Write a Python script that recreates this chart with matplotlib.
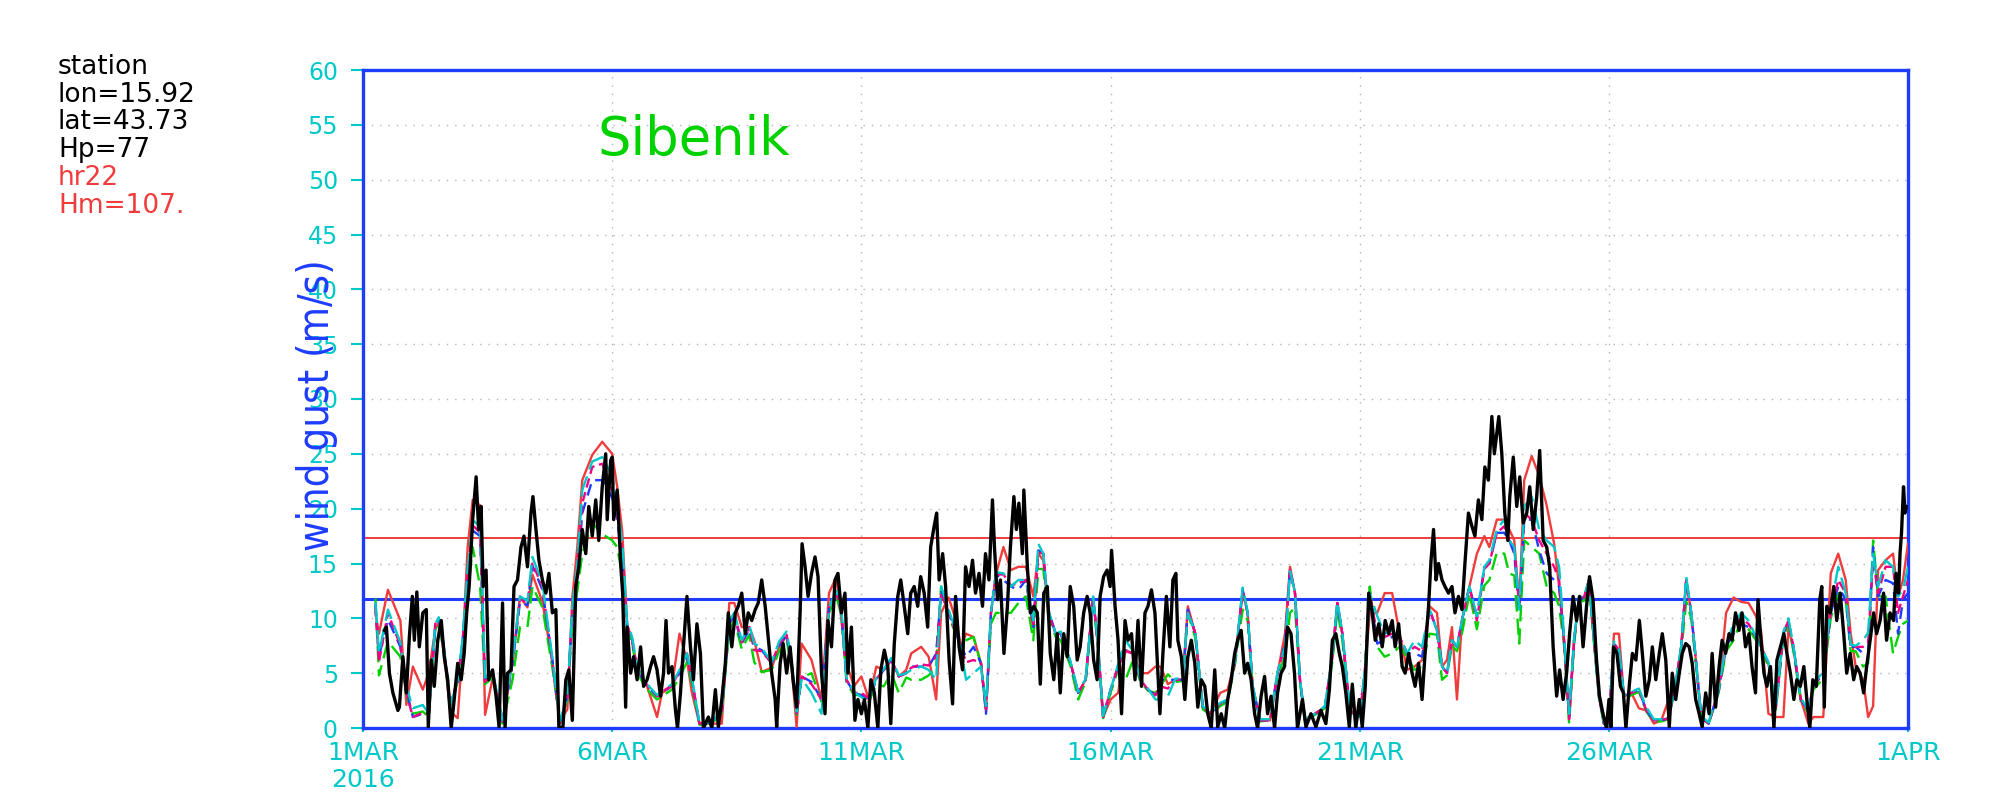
import matplotlib
matplotlib.use("Agg")
import matplotlib.pyplot as plt

# time axis: days since 1 MAR 2016 00Z
t_mod = [0.25, 0.32, 0.5, 0.75, 0.87, 1.0, 1.2, 1.32, 1.45, 1.52,
         1.62, 1.75, 1.9, 2.0, 2.1, 2.2, 2.35, 2.45, 2.6, 2.8,
         3.0, 3.15, 3.3, 3.4, 3.6, 3.8, 3.95, 4.1, 4.2, 4.3,
         4.4, 4.6, 4.8, 5.0, 5.1, 5.2, 5.3, 5.4, 5.5, 5.7,
         5.9, 6.0, 6.2, 6.35, 6.5, 6.6, 6.75, 7.0, 7.2, 7.35,
         7.45, 7.6, 7.75, 7.85, 8.0, 8.2, 8.35, 8.5, 8.6, 8.7,
         8.8, 9.0, 9.2, 9.35, 9.5, 9.6, 9.7, 9.85, 10.0, 10.15,
         10.3, 10.45, 10.6, 10.75, 10.9, 11.0, 11.2, 11.35, 11.5, 11.6,
         11.75, 11.9, 12.0, 12.1, 12.25, 12.4, 12.5, 12.6, 12.7, 12.85,
         13.0, 13.15, 13.3, 13.45, 13.55, 13.65, 13.75, 13.9, 14.0, 14.2,
         14.35, 14.5, 14.65, 14.75, 14.85, 15.0, 15.15, 15.3, 15.45, 15.6,
         15.75, 15.9, 16.0, 16.15, 16.3, 16.45, 16.55, 16.7, 16.85, 17.0,
         17.2, 17.35, 17.5, 17.65, 17.75, 17.85, 18.0, 18.2, 18.35, 18.5,
         18.6, 18.7, 18.8, 18.9, 19.1, 19.3, 19.45, 19.55, 19.65, 19.8,
         20.0, 20.1, 20.2, 20.35, 20.5, 20.65, 20.8, 20.95, 21.1, 21.25,
         21.4, 21.55, 21.65, 21.75, 21.85, 21.95, 22.05, 22.2, 22.35, 22.5,
         22.6, 22.75, 22.9, 23.0, 23.1, 23.2, 23.3, 23.45, 23.6, 23.75,
         23.9, 24.0, 24.1, 24.2, 24.3, 24.4, 24.5, 24.6, 24.7, 24.8,
         24.9, 25.0, 25.05, 25.1, 25.2, 25.3, 25.45, 25.6, 25.75, 25.9,
         26.05, 26.2, 26.35, 26.45, 26.55, 26.65, 26.75, 26.85, 27.0, 27.2,
         27.35, 27.5, 27.65, 27.8, 27.95, 28.05, 28.2, 28.35, 28.5, 28.6,
         28.7, 28.85, 29.0, 29.1, 29.3, 29.45, 29.6, 29.75, 29.85, 29.95,
         30.1, 30.2, 30.3, 30.4, 30.55, 30.7, 30.8, 30.9, 31.0]

gust_red = [10.5, 8.6, 12.6, 9.8, 2.1, 5.6, 3.5, 5.0, 9.0, 9.6,
            7.0, 1.5, 0.9, 7.5, 16.5, 20.8, 20.3, 1.2, 4.5, 0.7,
            6.0, 12.0, 11.0, 14.0, 11.5, 6.0, 0.6, 1.7, 11.9, 16.5,
            22.6, 24.9, 26.1, 25.0, 22.0, 18.0, 9.4, 8.0, 5.3, 3.8,
            1.0, 3.2, 3.8, 8.6, 6.2, 3.2, 0.4, 0.4, 0.4, 11.4,
            11.4, 9.2, 9.2, 8.0, 5.1, 5.5, 7.4, 8.4, 5.5, 0.1,
            7.7, 6.2, 2.6, 12.3, 13.8, 9.8, 5.9, 3.8, 4.7, 2.6,
            5.6, 5.3, 6.2, 4.7, 5.3, 6.8, 7.4, 6.5, 2.6, 10.5,
            11.9, 9.8, 7.4, 8.6, 8.3, 5.9, 1.5, 10.5, 14.0, 16.5,
            14.4, 14.7, 14.7, 12.0, 15.9, 15.3, 10.5, 8.6, 8.6, 5.9,
            3.2, 4.4, 11.9, 7.4, 1.0, 2.6, 3.2, 7.1, 6.8, 5.0,
            5.0, 5.6, 5.6, 4.0, 4.4, 4.4, 11.1, 8.6, 1.9, 1.3,
            3.2, 3.5, 6.2, 12.4, 10.5, 3.8, 0.7, 0.7, 5.0, 8.6,
            14.7, 12.3, 4.4, 0.7, 1.3, 1.9, 6.5, 11.4, 8.6, 1.6,
            1.0, 5.0, 10.5, 10.5, 12.3, 12.3, 8.6, 5.3, 5.6, 6.2,
            11.1, 10.5, 5.6, 6.2, 9.2, 2.6, 9.8, 12.9, 15.9, 17.5,
            16.5, 19.0, 19.0, 18.1, 17.1, 11.0, 22.6, 24.8, 23.0, 20.3,
            16.8, 12.9, 8.0, 0.8, 8.0, 11.9, 11.9, 13.5, 8.0, 2.9,
            0.4, 0.1, 4.4, 8.6, 8.6, 2.9, 3.2, 1.8, 1.6, 0.4,
            0.7, 2.6, 4.4, 7.4, 13.5, 10.5, 5.9, 1.0, 0.4, 3.4,
            10.5, 11.9, 11.5, 11.4, 10.2, 8.9, 1.3, 1.0, 1.0, 9.0,
            7.4, 2.6, 0.4, 1.0, 1.0, 14.1, 15.9, 13.5, 8.6, 5.6,
            4.4, 1.0, 2.0, 14.4, 15.3, 15.9, 12.0, 13.5, 16.8]

gust_blue = [11.3, 6.5, 9.9, 7.4, 3.5, 1.0, 1.3, 1.2, 9.3, 9.9,
             7.4, 2.1, 4.0, 8.0, 14.0, 18.0, 17.5, 4.4, 5.0, 0.6,
             5.8, 11.5, 11.2, 14.8, 12.6, 6.2, 0.4, 2.9, 10.2, 14.0,
             19.6, 22.6, 22.6, 21.0, 19.0, 15.5, 9.2, 8.0, 5.3, 3.8,
             2.9, 3.2, 3.9, 5.0, 6.6, 4.4, 0.4, 0.5, 1.6, 9.5,
             10.2, 7.7, 9.0, 7.4, 7.1, 5.9, 7.5, 8.5, 5.9, 1.3,
             4.7, 4.2, 2.6, 11.0, 12.3, 10.5, 4.4, 3.2, 3.0, 2.6,
             4.4, 5.3, 6.2, 4.7, 5.0, 5.6, 5.6, 5.6, 6.8, 12.5,
             10.5, 8.6, 7.4, 6.5, 7.4, 5.9, 1.3, 10.5, 14.0, 13.5,
             12.9, 12.6, 13.5, 9.2, 16.2, 15.9, 10.8, 8.6, 8.6, 5.9,
             3.2, 4.4, 11.9, 7.4, 1.0, 3.5, 5.6, 7.1, 6.8, 4.4,
             3.5, 3.0, 4.4, 4.4, 4.4, 4.4, 10.8, 8.6, 1.9, 1.3,
             2.2, 2.6, 6.2, 12.6, 10.5, 3.8, 0.7, 0.7, 5.0, 7.7,
             14.4, 12.3, 4.4, 0.7, 1.3, 1.9, 6.5, 11.4, 8.6, 1.6,
             1.0, 5.0, 12.3, 7.7, 8.0, 8.3, 8.3, 6.8, 6.8, 6.5,
             10.8, 8.9, 5.6, 5.0, 8.0, 7.4, 9.8, 12.9, 10.2, 14.7,
             15.0, 17.8, 17.8, 17.1, 15.9, 10.5, 19.0, 19.0, 16.2, 14.1,
             13.5, 12.9, 8.0, 1.0, 8.0, 11.9, 11.9, 13.5, 8.0, 2.9,
             0.4, 0.1, 4.4, 7.7, 7.1, 2.9, 3.2, 3.5, 1.6, 0.7,
             0.7, 0.9, 4.4, 7.4, 13.5, 10.5, 5.9, 1.0, 0.4, 3.4,
             7.4, 8.6, 9.5, 9.2, 8.3, 7.4, 5.9, 1.9, 8.6, 9.8,
             7.4, 2.6, 1.6, 3.8, 5.0, 10.5, 12.9, 11.7, 7.4, 7.4,
             6.8, 7.1, 16.5, 12.0, 13.5, 13.2, 8.6, 11.7, 12.3]

gust_green = [11.8, 4.8, 7.9, 6.5, 3.0, 1.3, 1.5, 1.0, 9.0, 9.6,
              7.0, 2.0, 4.2, 7.5, 12.0, 16.5, 12.9, 4.0, 4.6, 0.4,
              4.4, 9.2, 9.2, 12.9, 11.0, 5.5, 0.5, 2.6, 9.5, 12.5,
              15.9, 18.7, 17.7, 17.1, 16.5, 13.9, 9.0, 7.7, 5.0, 3.5,
              2.6, 2.9, 3.5, 4.6, 6.0, 4.0, 0.3, 0.4, 1.4, 9.0,
              9.8, 7.2, 8.5, 6.0, 5.1, 5.3, 7.0, 8.0, 5.6, 1.2,
              4.6, 5.0, 2.4, 10.5, 12.0, 10.2, 4.2, 3.0, 3.0, 2.4,
              4.0, 3.8, 5.0, 3.2, 4.6, 4.4, 4.4, 4.8, 5.5, 12.9,
              10.2, 8.5, 8.0, 8.0, 8.3, 5.8, 1.8, 9.5, 10.5, 10.5,
              10.5, 11.4, 12.0, 8.0, 14.5, 14.5, 10.2, 8.3, 8.0, 5.6,
              2.6, 4.2, 11.5, 7.2, 0.9, 3.2, 5.3, 4.4, 6.2, 4.2,
              3.4, 3.2, 3.8, 4.9, 4.2, 4.3, 10.5, 8.2, 1.7, 1.2,
              2.0, 2.4, 5.9, 10.8, 9.8, 3.6, 0.6, 0.7, 4.8, 6.5,
              10.5, 11.0, 4.2, 0.6, 1.2, 1.8, 6.0, 10.8, 8.0, 1.5,
              0.9, 5.2, 12.9, 7.4, 6.5, 6.8, 7.4, 6.5, 5.3, 5.6,
              8.6, 8.5, 4.4, 4.8, 7.5, 7.0, 8.6, 12.3, 9.0, 13.0,
              13.5, 16.0, 15.9, 14.1, 13.9, 7.7, 17.1, 16.5, 15.9, 12.9,
              12.3, 11.1, 7.5, 0.4, 7.7, 11.5, 11.6, 13.0, 7.6, 2.7,
              0.3, 0.1, 4.2, 7.5, 6.9, 2.6, 3.0, 3.3, 1.5, 0.6,
              0.6, 0.8, 4.2, 7.0, 11.5, 10.0, 5.6, 0.9, 0.4, 3.2,
              7.0, 8.0, 9.8, 9.0, 8.0, 7.2, 5.6, 1.7, 8.3, 9.5,
              7.0, 2.4, 1.4, 3.5, 4.5, 10.0, 12.3, 11.7, 7.0, 7.0,
              5.6, 5.9, 17.1, 12.0, 12.0, 6.8, 8.3, 9.5, 9.8]

gust_magenta = [11.0, 6.0, 10.5, 7.5, 3.2, 1.0, 1.4, 1.3, 9.5, 10.0,
                7.4, 2.2, 4.4, 8.0, 14.2, 18.5, 17.8, 4.2, 5.0, 0.6,
                6.0, 11.8, 11.4, 15.0, 12.9, 6.0, 0.4, 2.8, 10.5, 14.5,
                20.5, 23.8, 24.1, 21.7, 19.5, 16.2, 9.4, 8.0, 5.5, 3.9,
                2.9, 3.3, 3.9, 5.2, 6.8, 4.4, 0.4, 0.5, 1.6, 9.7,
                10.4, 7.8, 9.2, 7.1, 7.0, 5.9, 7.7, 8.5, 5.9, 1.3,
                4.7, 4.0, 2.6, 11.1, 12.3, 10.5, 4.4, 3.2, 3.2, 2.7,
                4.5, 5.2, 6.2, 4.7, 5.0, 5.5, 5.8, 5.7, 6.5, 12.3,
                10.5, 8.6, 7.4, 6.0, 6.2, 5.9, 1.7, 10.5, 14.0, 14.0,
                13.0, 13.2, 13.5, 9.2, 16.0, 15.9, 10.5, 8.6, 8.6, 5.9,
                3.2, 4.4, 11.9, 7.4, 1.0, 3.5, 5.6, 7.0, 6.8, 4.4,
                3.5, 3.0, 3.8, 3.6, 4.4, 4.4, 10.8, 8.6, 1.9, 1.3,
                2.2, 2.6, 6.2, 12.5, 10.5, 3.8, 0.7, 0.7, 5.0, 7.6,
                14.4, 12.3, 4.4, 0.7, 1.3, 1.9, 6.5, 11.4, 8.6, 1.6,
                1.0, 5.0, 12.3, 8.5, 8.3, 8.6, 8.3, 6.8, 7.4, 7.0,
                10.8, 8.9, 5.6, 5.0, 8.0, 7.4, 9.8, 12.9, 9.8, 14.5,
                15.0, 17.8, 18.4, 17.1, 16.5, 11.1, 19.6, 19.0, 17.1, 15.9,
                14.7, 13.5, 8.0, 0.8, 8.0, 11.9, 11.9, 13.5, 8.0, 2.9,
                0.4, 0.1, 4.4, 7.7, 7.1, 2.9, 3.2, 3.5, 1.6, 0.7,
                0.7, 0.9, 4.4, 7.4, 13.5, 10.5, 5.9, 1.0, 0.4, 3.4,
                7.4, 9.2, 10.0, 9.5, 8.3, 7.4, 5.9, 1.9, 8.6, 9.8,
                7.4, 2.6, 1.6, 3.8, 5.0, 10.5, 13.5, 12.3, 7.4, 7.4,
                7.4, 7.7, 15.3, 12.3, 14.7, 14.7, 10.5, 12.0, 13.5]

gust_cyan = [11.5, 6.8, 10.8, 7.8, 3.8, 1.8, 2.1, 1.3, 9.5, 10.1,
             7.6, 2.1, 4.4, 8.2, 14.5, 19.0, 18.3, 4.6, 5.2, 0.7,
             6.2, 12.0, 11.6, 15.6, 13.2, 6.4, 0.5, 3.0, 11.0, 15.0,
             21.7, 24.3, 24.7, 23.0, 20.2, 17.1, 9.6, 8.3, 5.6, 4.0,
             3.0, 3.4, 4.0, 5.3, 6.8, 4.6, 0.5, 0.5, 1.7, 9.8,
             10.5, 8.0, 9.4, 7.7, 7.3, 6.0, 7.9, 8.8, 6.1, 1.5,
             4.5, 3.2, 1.3, 11.0, 12.5, 10.8, 4.6, 3.3, 2.8, 2.5,
             4.6, 5.4, 6.4, 4.8, 5.0, 5.3, 5.6, 5.3, 4.4, 12.9,
             10.8, 8.8, 7.2, 4.4, 5.0, 5.6, 2.0, 10.5, 14.2, 14.1,
             12.9, 13.5, 13.5, 9.8, 16.8, 15.9, 10.8, 8.6, 8.8, 6.0,
             3.3, 4.5, 12.0, 7.5, 1.1, 3.5, 5.8, 8.0, 7.0, 4.5,
             3.6, 2.6, 2.6, 2.9, 4.5, 4.5, 10.5, 8.7, 2.0, 1.4,
             2.3, 2.6, 6.3, 12.8, 10.6, 3.9, 0.8, 0.8, 5.1, 7.4,
             14.3, 12.4, 4.5, 0.8, 1.3, 2.0, 6.6, 11.5, 8.7, 1.7,
             1.0, 5.1, 12.3, 10.2, 8.6, 8.9, 8.3, 6.8, 8.0, 7.4,
             10.8, 8.9, 5.6, 5.0, 8.0, 7.4, 9.8, 12.9, 10.2, 14.7,
             15.3, 18.1, 19.0, 17.1, 16.5, 10.8, 20.2, 21.1, 18.1, 17.1,
             16.5, 14.7, 8.3, 1.3, 8.2, 12.0, 12.0, 13.5, 8.1, 3.0,
             0.5, 0.2, 4.5, 7.9, 7.2, 3.0, 3.3, 3.6, 1.9, 0.8,
             0.8, 1.0, 4.5, 7.5, 13.8, 10.6, 6.0, 1.1, 0.5, 3.5,
             7.6, 9.5, 10.5, 9.8, 8.3, 7.4, 6.0, 2.0, 8.8, 10.0,
             7.5, 2.7, 1.7, 3.9, 5.2, 11.0, 14.7, 12.3, 7.6, 7.5,
             8.0, 8.7, 15.9, 12.9, 15.3, 14.7, 12.0, 12.6, 14.7]

# station observations
obs_t = [0.43, 0.47, 0.53, 0.6, 0.7, 0.73, 0.8, 0.87, 0.93, 0.99,
         1.03, 1.08, 1.13, 1.2, 1.27, 1.31, 1.37, 1.43, 1.5, 1.57,
         1.63, 1.7, 1.77, 1.83, 1.9, 1.97, 2.03, 2.08, 2.13, 2.2,
         2.27, 2.32, 2.37, 2.41, 2.47, 2.52, 2.6, 2.67, 2.73, 2.8,
         2.85, 2.9, 2.97, 3.03, 3.1, 3.17, 3.23, 3.3, 3.37, 3.41,
         3.47, 3.53, 3.6, 3.67, 3.73, 3.8, 3.87, 3.93, 4.01, 4.07,
         4.13, 4.2, 4.27, 4.33, 4.4, 4.47, 4.53, 4.6, 4.67, 4.73,
         4.8, 4.87, 4.9, 4.97,
         5.0, 5.03, 5.1, 5.17, 5.21, 5.27, 5.3, 5.37, 5.43, 5.5,
         5.57, 5.63, 5.7, 5.77, 5.83, 5.9, 5.97, 6.03, 6.08, 6.13,
         6.2, 6.27, 6.31, 6.37, 6.43, 6.5, 6.57, 6.63, 6.7, 6.77,
         6.83, 6.93, 7.0, 7.07, 7.13, 7.2, 7.27, 7.33, 7.4, 7.47,
         7.53, 7.6, 7.67, 7.73, 7.8, 7.87, 7.93, 8.0, 8.07, 8.13,
         8.2, 8.27, 8.3, 8.37, 8.43, 8.5, 8.57, 8.63, 8.7, 8.77,
         8.81, 8.87, 8.93, 9.0, 9.07, 9.13, 9.2, 9.27, 9.33, 9.4,
         9.47, 9.53, 9.6, 9.67, 9.73, 9.8, 9.87, 9.93,
         10.0, 10.06, 10.13, 10.19, 10.26, 10.33, 10.39, 10.46, 10.53, 10.59,
         10.66, 10.73, 10.79, 10.86, 10.93, 10.99, 11.06, 11.13, 11.19, 11.26,
         11.33, 11.39, 11.46, 11.51, 11.56, 11.63, 11.69, 11.76, 11.83, 11.89,
         11.96, 12.03, 12.09, 12.16, 12.23, 12.29, 12.36, 12.43, 12.49, 12.56,
         12.63, 12.67, 12.73, 12.79, 12.86, 12.93, 12.99, 13.06, 13.11, 13.16,
         13.23, 13.26, 13.33, 13.39, 13.46, 13.53, 13.59, 13.66, 13.73, 13.79,
         13.86, 13.93, 13.99, 14.06, 14.13, 14.19, 14.26, 14.33, 14.39, 14.46,
         14.53, 14.59, 14.66, 14.73, 14.79, 14.86, 14.93, 14.99,
         15.02, 15.09, 15.15, 15.22, 15.29, 15.35, 15.42, 15.49, 15.55, 15.62,
         15.69, 15.75, 15.82, 15.89, 15.95, 15.99, 16.05, 16.12, 16.19, 16.25,
         16.31, 16.35, 16.42, 16.49, 16.55, 16.62, 16.69, 16.75, 16.82, 16.89,
         16.95, 17.02, 17.09, 17.15, 17.22, 17.29, 17.35, 17.42, 17.49, 17.55,
         17.62, 17.69, 17.75, 17.82, 17.89, 17.95, 18.02, 18.09, 18.15, 18.22,
         18.29, 18.35, 18.42, 18.49, 18.55, 18.62, 18.69, 18.75, 18.85, 18.92,
         19.02, 19.12, 19.22, 19.32, 19.39, 19.45, 19.52, 19.59, 19.65, 19.72,
         19.79, 19.85, 19.92, 19.99,
         20.05, 20.11, 20.18, 20.25, 20.31, 20.38, 20.45, 20.51, 20.58, 20.65,
         20.71, 20.78, 20.85, 20.91, 20.98, 21.05, 21.11, 21.18, 21.25, 21.31,
         21.38, 21.43, 21.48, 21.53, 21.58, 21.65, 21.71, 21.78, 21.85, 21.91,
         21.98, 22.05, 22.11, 22.18, 22.25, 22.31, 22.38, 22.45, 22.51, 22.58,
         22.65, 22.7, 22.75, 22.79, 22.85, 22.91, 22.97, 23.01, 23.08, 23.15,
         23.21, 23.28, 23.35, 23.41, 23.48, 23.55, 23.61, 23.68, 23.75, 23.81,
         23.88, 23.95, 24.01, 24.08, 24.15, 24.21, 24.28, 24.35, 24.41, 24.48,
         24.55, 24.61, 24.68, 24.75, 24.81, 24.88, 24.95,
         25.0, 25.04, 25.09, 25.16, 25.23, 25.29, 25.34, 25.41, 25.47, 25.54,
         25.61, 25.67, 25.74, 25.81, 25.87, 25.94, 26.01, 26.07, 26.14, 26.21,
         26.27, 26.34, 26.41, 26.47, 26.54, 26.61, 26.67, 26.74, 26.81, 26.87,
         26.94, 27.01, 27.07, 27.14, 27.21, 27.27, 27.34, 27.41, 27.47, 27.54,
         27.61, 27.67, 27.74, 27.81, 27.87, 27.94, 27.99, 28.04, 28.11, 28.17,
         28.24, 28.31, 28.37, 28.44, 28.51, 28.57, 28.64, 28.71, 28.77, 28.84,
         28.91, 28.97, 29.03, 29.09, 29.16, 29.23, 29.27, 29.32, 29.37, 29.44,
         29.51, 29.57, 29.64, 29.71, 29.77, 29.84, 29.91, 29.97, 30.04, 30.11,
         30.17, 30.24, 30.31, 30.37, 30.44, 30.51, 30.57, 30.64, 30.71, 30.76,
         30.81, 30.84, 30.87, 30.91, 30.94, 30.97]

obs_gust = [8.9, 9.2, 5.0, 3.2, 1.6, 1.9, 6.5, 3.2, 8.3, 12.0,
            8.0, 12.4, 7.4, 10.5, 10.8, 0.1, 6.2, 3.8, 8.0, 9.8,
            6.5, 4.4, 0.0, 2.6, 5.9, 4.4, 6.8, 10.5, 12.9, 19.0,
            22.9, 18.1, 20.2, 12.9, 14.4, 4.4, 5.3, 2.9, 0.1, 11.4,
            0.0, 5.0, 5.3, 12.9, 13.5, 16.5, 17.5, 14.7, 19.6, 21.1,
            18.1, 15.3, 13.5, 12.3, 14.1, 10.5, 10.8, 0.1, 0.0, 4.4,
            5.3, 0.7, 12.9, 14.7, 18.1, 15.9, 20.2, 17.5, 20.8, 17.1,
            22.0, 25.0, 19.0, 24.4,
            24.7, 19.0, 21.7, 15.0, 12.3, 1.9, 9.2, 5.0, 6.5, 4.4,
            7.4, 3.8, 4.4, 5.6, 6.5, 5.3, 2.9, 5.0, 9.8, 5.0,
            5.6, 1.6, 0.0, 3.2, 7.4, 12.0, 7.4, 4.4, 9.5, 6.8,
            0.0, 1.0, 0.0, 3.5, 0.1, 2.6, 5.9, 10.5, 7.4, 10.5,
            11.1, 12.3, 8.6, 10.5, 9.8, 10.8, 11.4, 13.5, 11.1, 8.3,
            5.0, 2.6, 0.1, 5.9, 7.7, 5.0, 7.4, 4.4, 1.9, 10.5,
            16.8, 14.7, 12.0, 14.1, 15.6, 13.8, 5.0, 1.3, 9.8, 7.4,
            13.5, 14.1, 10.5, 12.3, 5.0, 9.2, 0.7, 2.6,
            1.3, 2.6, 0.0, 4.4, 3.2, 0.0, 5.3, 7.1, 5.6, 0.4,
            7.7, 12.0, 13.5, 11.1, 8.6, 12.3, 12.9, 11.1, 13.8, 12.3,
            9.2, 16.5, 18.4, 19.6, 13.5, 15.9, 12.9, 6.2, 2.2, 12.0,
            7.4, 5.3, 14.7, 12.9, 15.3, 12.3, 14.1, 11.1, 15.9, 13.5,
            20.8, 16.5, 11.7, 13.5, 6.8, 11.1, 16.5, 21.1, 18.1, 20.5,
            15.9, 21.7, 14.7, 10.5, 11.1, 10.5, 4.0, 12.3, 12.9, 6.8,
            4.4, 8.6, 3.2, 8.6, 6.5, 12.9, 11.1, 6.2, 7.4, 10.5,
            12.0, 10.5, 6.2, 4.4, 12.0, 13.8, 14.4, 12.9,
            16.2, 11.1, 8.0, 1.3, 9.8, 8.0, 8.6, 4.4, 9.8, 3.8,
            10.5, 11.1, 12.6, 10.5, 5.0, 1.3, 6.8, 12.0, 7.4, 13.5,
            14.1, 8.0, 6.5, 2.6, 6.5, 8.0, 5.9, 1.9, 4.4, 3.8,
            1.3, 0.0, 5.3, 0.1, 1.3, 0.0, 2.6, 4.4, 6.8, 8.0,
            8.9, 5.0, 5.9, 4.4, 1.3, 0.0, 2.9, 4.7, 1.3, 2.9,
            0.0, 3.2, 5.0, 5.6, 9.2, 8.6, 5.0, 0.0, 2.6, 0.1,
            1.3, 0.1, 1.6, 0.4, 3.5, 8.0, 8.6, 6.8, 5.6, 3.2,
            0.1, 4.0, 0.0, 2.6,
            0.1, 3.8, 12.3, 10.5, 8.0, 9.5, 7.4, 9.8, 8.6, 9.8,
            7.4, 9.5, 5.6, 5.0, 6.8, 5.0, 3.8, 5.9, 2.6, 6.8,
            11.1, 15.3, 18.1, 13.5, 15.0, 13.5, 12.9, 12.3, 12.9, 10.5,
            12.0, 10.8, 15.0, 19.6, 18.4, 17.5, 20.8, 19.0, 23.8, 22.6,
            28.4, 25.0, 26.9, 28.4, 25.0, 19.6, 17.1, 21.1, 24.7, 20.2,
            22.9, 18.7, 19.6, 22.0, 18.1, 21.1, 25.3, 17.1, 16.5, 14.7,
            7.4, 2.9, 5.3, 2.6, 5.0, 8.6, 12.0, 9.8, 12.0, 7.4,
            11.1, 13.8, 11.7, 6.2, 2.9, 1.3, 0.0,
            2.6, 0.1, 7.4, 6.8, 3.8, 3.2, 0.0, 4.0, 6.8, 6.2,
            9.8, 6.8, 2.9, 4.4, 7.4, 4.4, 6.8, 8.6, 6.2, 0.1,
            5.0, 2.6, 5.0, 6.8, 7.7, 7.4, 5.9, 2.6, 1.3, 0.1,
            3.2, 1.3, 6.8, 1.9, 5.6, 8.0, 6.8, 8.6, 8.0, 10.5,
            8.9, 10.5, 7.4, 8.6, 5.6, 3.2, 11.7, 8.6, 5.0, 3.8,
            5.6, 0.0, 6.2, 7.4, 8.6, 6.8, 5.0, 2.6, 4.4, 3.8,
            5.6, 2.6, 0.0, 4.4, 3.8, 11.7, 12.9, 1.9, 11.1, 10.5,
            12.9, 9.8, 12.3, 8.6, 5.0, 6.8, 4.4, 5.6, 5.0, 3.2,
            5.6, 8.0, 10.5, 8.6, 9.8, 12.3, 8.0, 10.5, 9.8, 14.1,
            12.3, 15.9, 17.8, 22.0, 19.6, 20.2]

# thresholds (red: hr22 model, blue: station)
thr_red = 17.3
thr_blue = 11.8

xtick_pos = [0, 5, 10, 15, 20, 25, 31]
xtick_lab = ["1MAR\n2016", "6MAR", "11MAR", "16MAR", "21MAR", "26MAR", "1APR"]
ytick_pos = list(range(0, 61, 5))

info_black = ["station", "lon=15.92", "lat=43.73", "Hp=77"]
info_red = ["hr22", "Hm=107."]

CYAN = "#00c8c8"
BLUE = "#1e3cff"
RED = "#f03c3c"
GREEN = "#00d200"
MAGENTA = "#f00082"

fig = plt.figure(figsize=(20, 8), dpi=100)
ax = fig.add_axes([0.1815, 0.09, 0.7725, 0.8225])

ax.plot(t_mod, gust_red, color=RED, lw=1.7, zorder=3)
ax.plot(t_mod, gust_green, color=GREEN, lw=1.7, dashes=(7, 3), zorder=3)
ax.plot(t_mod, gust_blue, color=BLUE, lw=1.7, dashes=(5, 3), zorder=3)
ax.plot(t_mod, gust_magenta, color=MAGENTA, lw=1.7, dashes=(4, 2), zorder=3)
ax.plot(t_mod, gust_cyan, color=CYAN, lw=1.7, dashes=(9, 3), zorder=3)
ax.plot(obs_t, obs_gust, color="black", lw=2.4, zorder=4)

ax.axhline(thr_red, color=RED, lw=1.4, zorder=2)
ax.axhline(thr_blue, color=BLUE, lw=2.2, zorder=2)

ax.set_xlim(0, 31)
ax.set_ylim(0, 60)
ax.set_xticks(xtick_pos)
ax.set_xticklabels(xtick_lab)
ax.set_yticks(ytick_pos)

ax.grid(True, color="#b4b4b4", linestyle=(0, (1, 5)), lw=1.0)
ax.set_axisbelow(True)

for s in ax.spines.values():
    s.set_color(BLUE)
    s.set_linewidth(2.4)

ax.tick_params(axis="y", colors=CYAN, length=9, width=1.5, pad=9, labelsize=17)
ax.tick_params(axis="x", colors=CYAN, length=3, width=1.5, pad=6, labelsize=18)

# tall narrow label, overlapping the tick numbers as in the original
ax.set_ylabel("wind gust (m/s)", color=BLUE, fontsize=30, va="center",
              family="DejaVu Sans", fontstretch="condensed")
ax.yaxis.set_label_coords(-0.03, 0.49)

ax.text(6.64, 53.6, "Sibenik", color=GREEN, fontsize=38, ha="center", va="center")

ypix = [67, 95, 122, 150, 178, 206]
for i, s in enumerate(info_black + info_red):
    c = "black" if s in info_black else RED
    fig.text(0.029, 1 - ypix[i] / 800, s, color=c, fontsize=19, va="center")

fig.savefig("out.png", dpi=100)
